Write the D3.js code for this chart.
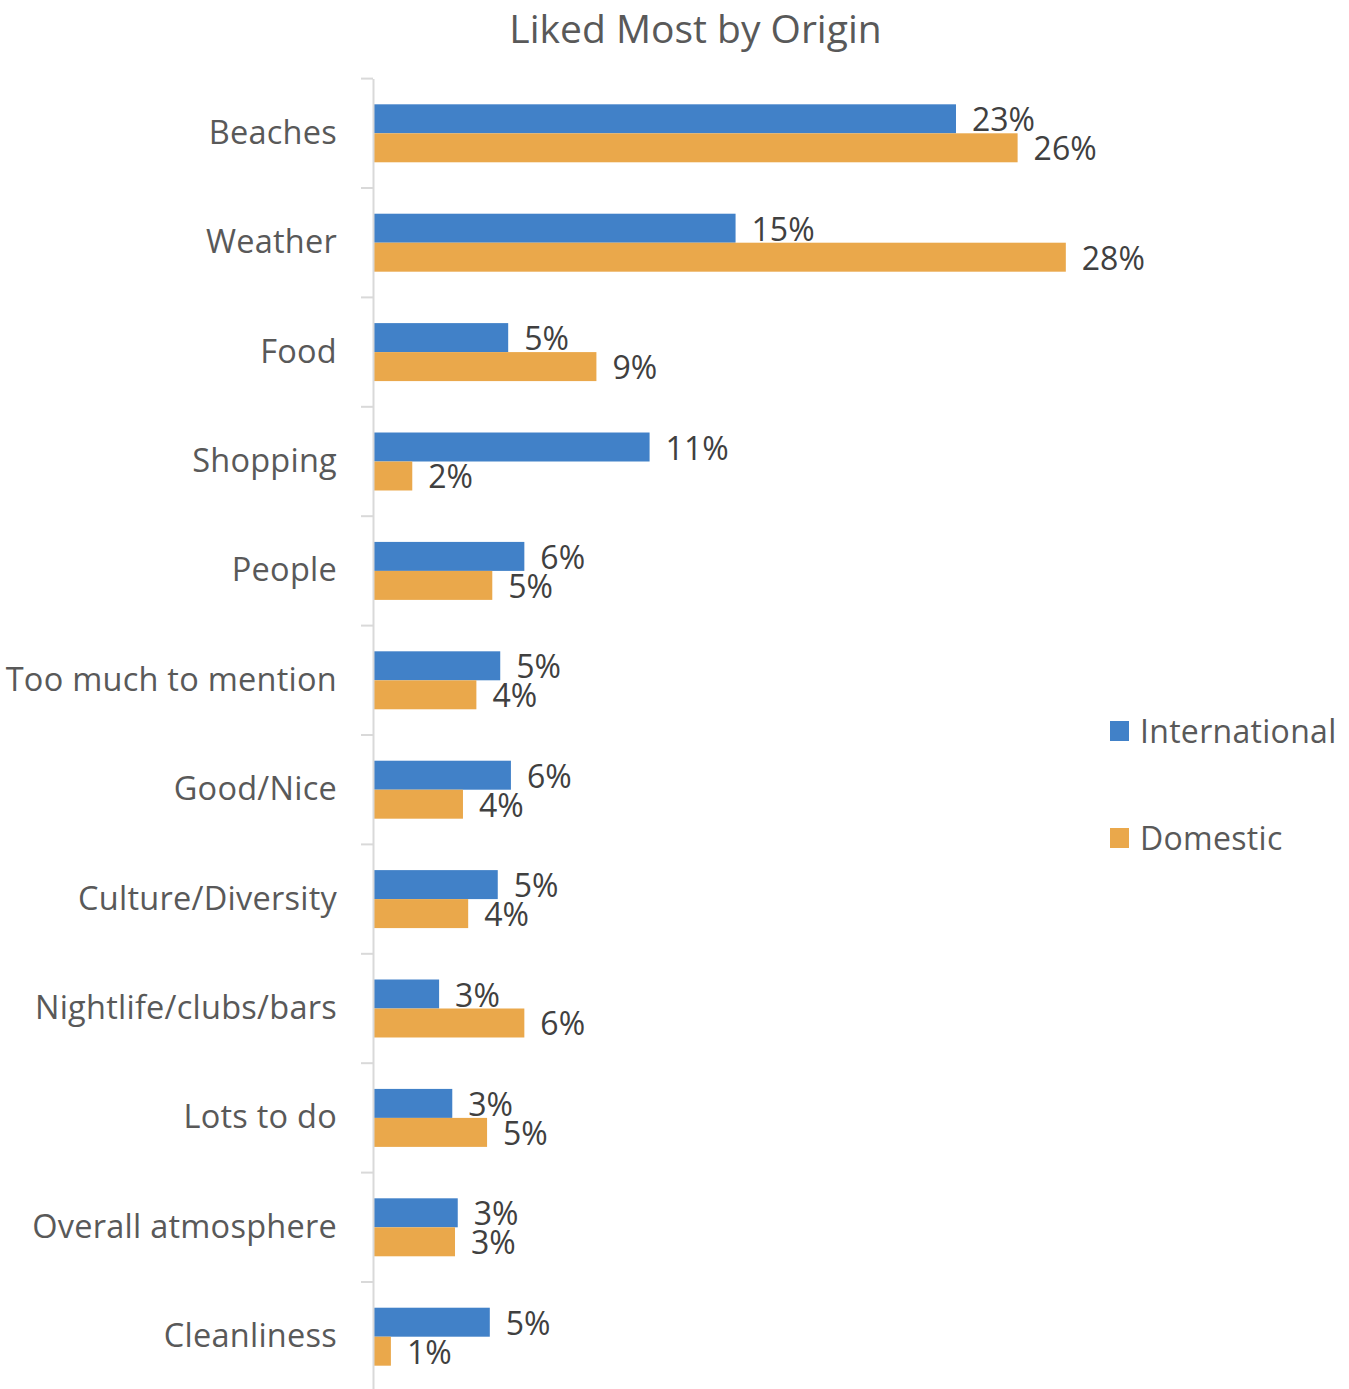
<!DOCTYPE html>
<html>
<head>
<meta charset="utf-8">
<script src="https://cdn.jsdelivr.net/npm/d3@7/dist/d3.min.js"></script>
<style>
  html, body { margin: 0; padding: 0; background: #ffffff; }
  svg { display: block; }
</style>
</head>
<body>
<svg id="chart" width="1349" height="1389"></svg>
<script>
const categories = ["Beaches", "Weather", "Food", "Shopping", "People", "Too much to mention",
  "Good/Nice", "Culture/Diversity", "Nightlife/clubs/bars", "Lots to do", "Overall atmosphere", "Cleanliness"];
const seriesNames = ["International", "Domestic"];
const international = [23.42, 14.55, 5.40, 11.09, 6.05, 5.08, 5.51, 4.98, 2.62, 3.15, 3.37, 4.66];
const domestic      = [25.90, 27.84, 8.95, 1.54, 4.76, 4.12, 3.58, 3.79, 6.05, 4.55, 3.26, 0.68];
const colors = ["#4181c8", "#eaa84b"];
const title = "Liked Most by Origin";

const svg = d3.select("#chart");
const font = "'Open Sans', 'Noto Sans', sans-serif";

const x = d3.scaleLinear().domain([0, 30]).range([373, 373 + 30 * 24.85]);
const y = d3.scaleBand().domain(categories).range([78.6, 78.6 + 12 * 109.4]).padding(0);
const groupH = y.bandwidth() * 0.53;
const ySub = d3.scaleBand().domain(seriesNames)
  .range([0, groupH]).padding(0);

// title
svg.append("text")
  .attr("x", 695.5).attr("y", 43)
  .attr("text-anchor", "middle")
  .attr("font-family", font).attr("font-size", 39)
  .attr("fill", "#595959")
  .text(title);

// bars
const data = categories.map((c, i) => ({ cat: c, vals: [international[i], domestic[i]] }));
const groups = svg.append("g").selectAll("g").data(data).join("g")
  .attr("transform", d => `translate(0,${y(d.cat) + (y.bandwidth() - groupH) / 2})`);

groups.selectAll("rect").data(d => d.vals.map((v, j) => ({ v, s: seriesNames[j], j })))
  .join("rect")
  .attr("x", x(0) + 1)
  .attr("y", d => ySub(d.s))
  .attr("width", d => x(d.v) - x(0))
  .attr("height", ySub.bandwidth())
  .attr("fill", d => colors[d.j]);

groups.selectAll("text").data(d => d.vals.map((v, j) => ({ v, s: seriesNames[j], j })))
  .join("text")
  .attr("x", d => x(d.v) + 17)
  .attr("y", d => ySub(d.s) + ySub.bandwidth() / 2 + 12.5)
  .attr("font-family", font).attr("font-size", 32)
  .attr("fill", "#404040")
  .text(d => Math.round(d.v) + "%");

// axis
const axis = d3.axisLeft(y).tickSize(0).tickPadding(36);
const ag = svg.append("g").attr("transform", `translate(${x(0)},0)`).call(axis);
ag.select(".domain").attr("stroke", "#d9d9d9").attr("stroke-width", 2);
ag.selectAll(".tick text")
  .attr("font-family", font).attr("font-size", 32.5)
  .attr("letter-spacing", 0.25)
  .attr("fill", "#595959")
  .attr("dy", null)
  .attr("y", 10.5);

// boundary tick marks
const bounds = d3.range(categories.length + 1).map(i => y.range()[0] + i * y.step());
svg.append("g").selectAll("line").data(bounds).join("line")
  .attr("x1", x(0) - 12).attr("x2", x(0))
  .attr("y1", d => d).attr("y2", d => d)
  .attr("stroke", "#d9d9d9").attr("stroke-width", 2);

// legend
const legend = svg.append("g");
const legY = [731, 838];
seriesNames.forEach((s, i) => {
  legend.append("rect").attr("x", 1110).attr("y", legY[i] - 10).attr("width", 19).attr("height", 20)
    .attr("fill", colors[i]);
  legend.append("text").attr("x", 1140).attr("y", legY[i] + 11.5)
    .attr("font-family", font).attr("font-size", 32).attr("letter-spacing", 0.3)
    .attr("fill", "#595959")
    .text(s);
});
</script>
</body>
</html>
